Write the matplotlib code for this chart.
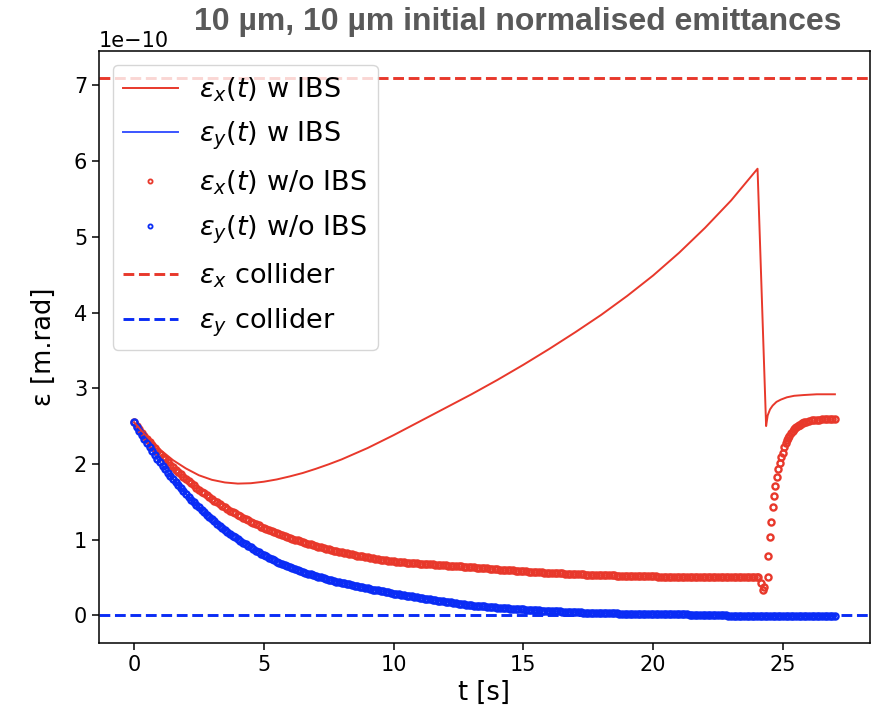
import numpy as np
import matplotlib
matplotlib.use("Agg")
import matplotlib.pyplot as plt

# emittances in units of 1e-10 m.rad
# eps_x with IBS (line)
t_x_ibs = [0, 0.5, 1, 1.5, 2, 2.5, 3, 3.5, 4, 4.5, 5, 5.5, 6, 6.5, 7, 7.5, 8, 9, 10, 11,
           12, 13, 14, 15, 16, 17, 18, 19, 20, 21, 22, 23, 24.02, 24.35, 24.41, 24.5,
           24.6, 24.75, 24.92, 25.15, 25.43, 25.8, 26.3, 27.0]
ex_ibs = [2.55, 2.36, 2.19, 2.05, 1.94, 1.85, 1.79, 1.755, 1.74, 1.745, 1.765, 1.795,
          1.835, 1.88, 1.935, 1.995, 2.06, 2.21, 2.38, 2.56, 2.74, 2.92, 3.11, 3.31,
          3.52, 3.74, 3.97, 4.22, 4.49, 4.79, 5.12, 5.48, 5.90, 2.50, 2.64, 2.72,
          2.77, 2.82, 2.85, 2.88, 2.90, 2.91, 2.92, 2.92]

# eps_x without IBS, one value every 0.1 s from 0 to 24 s
ex_noibs = [
    2.550, 2.504, 2.459, 2.415, 2.372, 2.330, 2.289, 2.249, 2.209, 2.171,
    2.133, 2.097, 2.061, 2.026, 1.991, 1.958, 1.925, 1.893, 1.862, 1.831,
    1.801, 1.772, 1.743, 1.715, 1.688, 1.661, 1.635, 1.610, 1.585, 1.561,
    1.537, 1.514, 1.491, 1.469, 1.447, 1.426, 1.405, 1.384, 1.364, 1.345,
    1.326, 1.307, 1.289, 1.271, 1.254, 1.237, 1.221, 1.205, 1.189, 1.173,
    1.158, 1.143, 1.129, 1.115, 1.101, 1.087, 1.074, 1.061, 1.049, 1.036,
    1.024, 1.012, 1.001, 0.990, 0.979, 0.968, 0.957, 0.947, 0.937, 0.927,
    0.918, 0.908, 0.899, 0.890, 0.881, 0.872, 0.864, 0.856, 0.848, 0.840,
    0.833, 0.825, 0.818, 0.811, 0.804, 0.797, 0.790, 0.783, 0.777, 0.771,
    0.765, 0.759, 0.753, 0.747, 0.742, 0.736, 0.731, 0.726, 0.721, 0.716,
    0.711, 0.708, 0.705, 0.702, 0.699, 0.697, 0.694, 0.692, 0.689, 0.687,
    0.684, 0.682, 0.679, 0.677, 0.674, 0.672, 0.669, 0.667, 0.664, 0.662,
    0.660, 0.657, 0.655, 0.652, 0.650, 0.647, 0.645, 0.643, 0.640, 0.638,
    0.636, 0.633, 0.630, 0.627, 0.624, 0.622, 0.619, 0.616, 0.613, 0.611,
    0.608, 0.605, 0.603, 0.600, 0.597, 0.595, 0.592, 0.589, 0.587, 0.584,
    0.581, 0.579, 0.576, 0.574, 0.571, 0.569, 0.567, 0.566, 0.564, 0.563,
    0.561, 0.559, 0.558, 0.556, 0.555, 0.553, 0.551, 0.550, 0.548, 0.547,
    0.545, 0.543, 0.542, 0.540, 0.539, 0.537, 0.536, 0.534, 0.533, 0.531,
    0.530, 0.529, 0.528, 0.528, 0.527, 0.526, 0.525, 0.525, 0.524, 0.523,
    0.522, 0.521, 0.520, 0.520, 0.519, 0.518, 0.517, 0.517, 0.516, 0.515,
    0.514, 0.513, 0.512, 0.512, 0.511, 0.510, 0.509, 0.509, 0.508, 0.507,
    0.506, 0.506, 0.506, 0.505, 0.505, 0.505, 0.504, 0.504, 0.504, 0.503,
    0.503, 0.503, 0.503, 0.502, 0.502, 0.502, 0.502, 0.502, 0.501, 0.501,
    0.501, 0.501, 0.501, 0.501, 0.500, 0.500, 0.500, 0.500, 0.500, 0.500,
    0.500]
# eps_x without IBS around the extraction dip and recovery
t_x_rec = [24.05, 24.15, 24.23, 24.28, 24.41, 24.44, 24.5, 24.55, 24.6, 24.65,
           24.7, 24.77, 24.82, 24.87, 24.92, 24.99, 25.05, 25.1, 25.14, 25.19, 25.24,
           25.3, 25.37, 25.41, 25.45, 25.5, 25.56, 25.6, 25.65, 25.72, 25.77, 25.82,
           25.9, 26.0, 26.1, 26.2, 26.3, 26.4, 26.5, 26.6, 26.7, 26.8, 26.9, 27.0]
ex_rec = [0.51, 0.43, 0.33, 0.38, 0.51, 0.78, 1.03, 1.23, 1.43, 1.58,
          1.71, 1.83, 1.93, 2.01, 2.09, 2.15, 2.23, 2.27, 2.31, 2.34, 2.37,
          2.41, 2.44, 2.455, 2.47, 2.485, 2.50, 2.51, 2.52, 2.54, 2.545, 2.55,
          2.56, 2.57, 2.575, 2.58, 2.583, 2.585, 2.587, 2.59, 2.59, 2.59, 2.59, 2.59]

# eps_y without IBS, one value every 0.1 s from 0 to 27 s
ey_noibs = [
    2.550, 2.491, 2.434, 2.378, 2.324, 2.270, 2.218, 2.167, 2.117, 2.068,
    2.021, 1.974, 1.929, 1.885, 1.842, 1.799, 1.758, 1.718, 1.678, 1.640,
    1.602, 1.565, 1.529, 1.494, 1.460, 1.426, 1.393, 1.361, 1.330, 1.299,
    1.269, 1.240, 1.212, 1.184, 1.157, 1.130, 1.104, 1.079, 1.054, 1.030,
    1.006, 0.983, 0.960, 0.938, 0.917, 0.896, 0.875, 0.855, 0.835, 0.816,
    0.797, 0.779, 0.761, 0.744, 0.727, 0.710, 0.694, 0.678, 0.662, 0.651,
    0.640, 0.627, 0.615, 0.602, 0.590, 0.577, 0.565, 0.552, 0.540, 0.530,
    0.520, 0.510, 0.500, 0.490, 0.480, 0.470, 0.460, 0.452, 0.445, 0.437,
    0.430, 0.422, 0.415, 0.407, 0.400, 0.392, 0.385, 0.377, 0.370, 0.362,
    0.355, 0.347, 0.340, 0.335, 0.330, 0.322, 0.315, 0.310, 0.305, 0.295,
    0.285, 0.280, 0.275, 0.270, 0.265, 0.260, 0.255, 0.249, 0.243, 0.236,
    0.230, 0.225, 0.220, 0.215, 0.210, 0.205, 0.200, 0.195, 0.190, 0.185,
    0.180, 0.175, 0.170, 0.165, 0.160, 0.155, 0.150, 0.145, 0.140, 0.136,
    0.133, 0.129, 0.126, 0.123, 0.120, 0.117, 0.114, 0.111, 0.108, 0.105,
    0.102, 0.099, 0.097, 0.094, 0.092, 0.089, 0.087, 0.084, 0.082, 0.079,
    0.077, 0.074, 0.072, 0.070, 0.068, 0.066, 0.064, 0.062, 0.060, 0.058,
    0.057, 0.055, 0.054, 0.052, 0.051, 0.049, 0.048, 0.046, 0.045, 0.043,
    0.042, 0.040, 0.039, 0.037, 0.036, 0.035, 0.034, 0.033, 0.032, 0.031,
    0.030, 0.029, 0.028, 0.027, 0.026, 0.025, 0.024, 0.023, 0.022, 0.021,
    0.020, 0.017, 0.015, 0.015, 0.015, 0.014, 0.014, 0.014, 0.014, 0.013,
    0.013, 0.013, 0.013, 0.013, 0.012, 0.012, 0.012, 0.012, 0.012, 0.011,
    0.011, 0.011, 0.011, 0.011, 0.010, 0.010, 0.010, 0.010, 0.010, 0.010,
    0.010, 0.009, 0.009, 0.009, 0.009, 0.009, 0.008, 0.008, 0.008, -0.005,
    -0.010, -0.010, -0.010, -0.010, -0.010, -0.010, -0.010, -0.010, -0.010, -0.010,
    -0.010, -0.010, -0.010, -0.010, -0.010, -0.010, -0.010, -0.010, -0.010, -0.010,
    -0.010, -0.010, -0.010, -0.010, -0.010, -0.010, -0.010, -0.010, -0.010, -0.010,
    -0.010, -0.010, -0.010, -0.010, -0.010, -0.010, -0.010, -0.010, -0.010, -0.010,
    -0.010]

ex_collider = 7.1
ey_collider = 0.0

t_x = np.arange(len(ex_noibs)) * 0.1
t_y = np.arange(len(ey_noibs)) * 0.1
sc = 1e-10

red = '#e8382b'
blue = '#0a2cf5'

fig = plt.figure(figsize=(8.79, 7.16), dpi=100)
ax = fig.add_axes([0.1126, 0.102, 0.8771, 0.8268])

ax.plot(t_x_ibs, np.array(ex_ibs) * sc, color=red, lw=1.4, label=r'$\epsilon_x(t)$ w IBS', zorder=3)
# eps_y with IBS sits under the eps_y w/o IBS points
ax.plot(t_y, np.array(ey_noibs) * sc, color='#3b55ff', lw=1.4, label=r'$\epsilon_y(t)$ w IBS', zorder=1)
ax.plot(np.concatenate([t_x, t_x_rec]), np.concatenate([ex_noibs, ex_rec]) * sc, 'o',
        mfc='none', mec=red, ms=4.4, mew=1.7, label=r'$\epsilon_x(t)$ w/o IBS', zorder=2)
ax.plot(t_y, np.array(ey_noibs) * sc, 'o', mfc='none', mec=blue, ms=4.4, mew=1.7,
        label=r'$\epsilon_y(t)$ w/o IBS', zorder=2)
ax.axhline(ex_collider * sc, color=red, ls='--', lw=2.1, label=r'$\epsilon_x$ collider')
ax.axhline(ey_collider * sc, color=blue, ls='--', lw=2.1, label=r'$\epsilon_y$ collider')

ax.set_xlabel('t [s]', fontsize=18.5)
ax.set_ylabel('ε [m.rad]', fontsize=18.5, labelpad=12)
ax.tick_params(labelsize=15, length=5, width=1.1)
ax.yaxis.get_offset_text().set_fontsize(15)
for s in ax.spines.values():
    s.set_linewidth(1.1)
leg = ax.legend(loc='upper left', fontsize=19.5, numpoints=1, labelspacing=0.6)
for h in leg.legend_handles[2:4]:
    h.set_markersize(3.0)
    h.set_markeredgewidth(1.3)

fig.text(0.5887, 0.969, '10 µm, 10 µm initial normalised emittances', ha='center', va='center',
         fontsize=23, fontweight='bold', color='#595959', family='Liberation Sans')

fig.savefig('out.png', dpi=100)
